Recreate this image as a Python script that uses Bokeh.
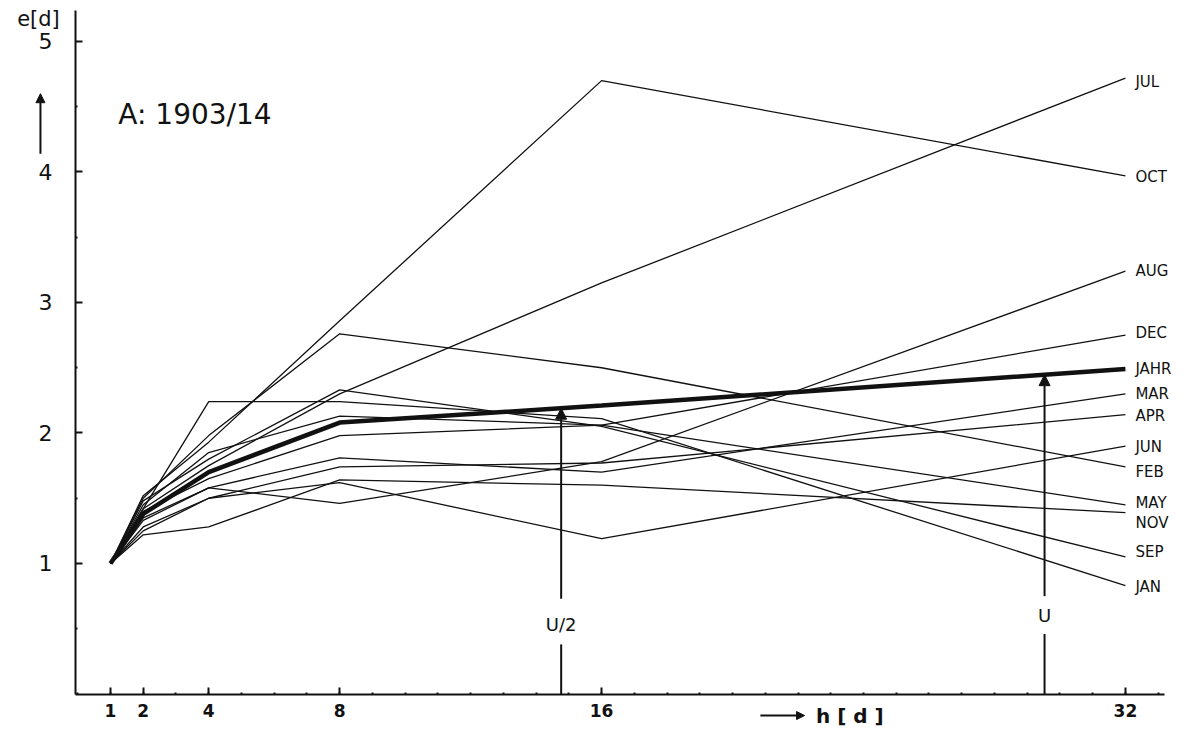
import numpy as np
from bokeh.plotting import figure
from bokeh.models import Range1d, FixedTicker, Label, Arrow, NormalHead, LinearAxis
from bokeh.core.properties import value
from bokeh.embed import file_html
from bokeh.resources import INLINE

# h [d] values (x axis)
h = [1, 2, 4, 8, 16, 32]
x_ticks = [1, 2, 4, 8, 16, 32]
y_ticks = [1, 2, 3, 4, 5]

# e [d] values per month
months = ["JUL", "OCT", "AUG", "DEC", "MAR", "APR", "JUN", "FEB", "MAY", "NOV", "SEP", "JAN"]
jul = [1, 1.42, 1.75, 2.30, 3.15, 4.72]
oct_ = [1, 1.52, 1.93, 2.86, 4.70, 3.97]
aug = [1, 1.35, 1.58, 1.46, 1.78, 3.24]
dec = [1, 1.40, 1.65, 1.98, 2.06, 2.75]
mar = [1, 1.33, 1.58, 1.81, 1.70, 2.30]
apr = [1, 1.28, 1.50, 1.74, 1.77, 2.14]
jun = [1, 1.25, 1.50, 1.62, 1.19, 1.90]
feb = [1, 1.50, 1.98, 2.76, 2.50, 1.74]
may = [1, 1.45, 1.85, 2.13, 2.06, 1.45]
nov = [1, 1.22, 1.28, 1.64, 1.60, 1.39]
sep = [1, 1.48, 1.80, 2.33, 2.05, 1.05]
jan = [1, 1.42, 2.24, 2.24, 2.11, 0.83]
jahr = [1, 1.38, 1.70, 2.08, 2.21, 2.49]
series = [jul, oct_, aug, dec, mar, apr, jun, feb, may, nov, sep, jan]

# synodic month U and U/2
U = 29.53
U_half = U / 2

# label nudges (pixels, positive = down)
nudge = {"JUL": 4, "OCT": 1, "AUG": 0, "DEC": -2, "JAHR": 0, "MAR": 0, "APR": 1,
         "JUN": 1, "FEB": 5, "MAY": -2, "NOV": 10, "SEP": -5, "JAN": 1}

FONT = "DejaVu Sans"
INK = "#111111"

X0, X1 = -0.07, 33.2   # extent of the drawn x axis line
Y0, Y1 = 0.0, 5.24     # extent of the drawn y axis line

p = figure(width=1194, height=729, x_range=Range1d(-2.36, 34.11), y_range=Range1d(-0.272, 5.314),
           output_backend="svg", toolbar_location=None, x_axis_location=None, y_axis_location=None,
           min_border=0)
p.grid.visible = False
p.outline_line_color = None
p.background_fill_color = "white"
p.border_fill_color = "white"

xax = LinearAxis(fixed_location=Y0, bounds=(X0, X1))
yax = LinearAxis(fixed_location=X0, bounds=(Y0, Y1))
p.add_layout(xax, "below")
p.add_layout(yax, "left")

for ax in (xax, yax):
    ax.axis_line_width = 2
    ax.axis_line_color = INK
    ax.major_tick_line_color = INK
    ax.minor_tick_line_color = INK
    ax.major_tick_line_width = 2
    ax.minor_tick_line_width = 2
    ax.major_tick_in = 7
    ax.major_tick_out = 0
    ax.minor_tick_in = 2
    ax.minor_tick_out = 0
    ax.major_label_text_font = FONT
    ax.major_label_text_color = INK

xax.ticker = FixedTicker(ticks=x_ticks, minor_ticks=list(range(0, 34)))
yax.ticker = FixedTicker(ticks=y_ticks, minor_ticks=[0.5 + i for i in range(6)])
xax.major_label_text_font_size = "17px"
xax.major_label_text_font_style = "bold"
yax.major_label_text_font_size = "22px"
xax.major_label_standoff = 10
yax.major_label_standoff = 23

# month lines
for name, ys in zip(months, series):
    p.line(h, ys, line_color=INK, line_width=1.3)
    p.text([h[-1]], [ys[-1]], text=[name], x_offset=10, y_offset=nudge[name],
           text_font=value(FONT), text_font_size="15px", text_baseline="middle",
           text_color=INK)

# yearly mean (thick)
p.line(h, jahr, line_color=INK, line_width=4.5)
p.text([h[-1]], [jahr[-1]], text=["JAHR"], x_offset=10, y_offset=nudge["JAHR"],
       text_font=value(FONT), text_font_size="15px", text_baseline="middle", text_color=INK)

# U/2 and U arrows up to the yearly curve
for xu, lbl, lo, hi, ly in [(U_half, "U/2", 0.38, 0.73, 0.53), (U, "U", 0.46, 0.75, 0.60)]:
    top = float(np.interp(xu, h, jahr))
    p.segment([xu], [0], [xu], [lo], line_color=INK, line_width=2)
    p.add_layout(Arrow(end=NormalHead(size=11, fill_color=INK, line_color=INK),
                       x_start=xu, y_start=hi, x_end=xu, y_end=top,
                       line_color=INK, line_width=2))
    p.text([xu], [ly], text=[lbl], text_font=value(FONT), text_font_size="18px",
           text_align="center", text_baseline="middle", text_color=INK)

# title-like annotation
p.add_layout(Label(x=1.24, y=4.44, text="A: 1903/14", text_font=FONT, text_font_size="28px",
                   text_baseline="middle", text_color=INK))

# y-axis name with arrow
p.add_layout(Label(x=-1.2, y=5.17, text="e[d]", text_font=FONT, text_font_size="21px",
                   text_align="center", text_baseline="middle", text_color=INK))
p.add_layout(Arrow(end=NormalHead(size=9, fill_color=INK, line_color=INK),
                   x_start=-1.14, y_start=4.14, x_end=-1.14, y_end=4.60,
                   line_color=INK, line_width=2))

# x-axis name with arrow
p.add_layout(Arrow(end=NormalHead(size=8, fill_color=INK, line_color=INK),
                   x_start=20.85, y_start=-0.165, x_end=22.2, y_end=-0.165,
                   line_color=INK, line_width=2))
p.add_layout(Label(x=22.55, y=-0.165, text="h [ d ]", text_font=FONT, text_font_size="20px",
                   text_font_style="bold", text_baseline="middle", text_color=INK))

open("out.html", "w").write(file_html(p, INLINE))
